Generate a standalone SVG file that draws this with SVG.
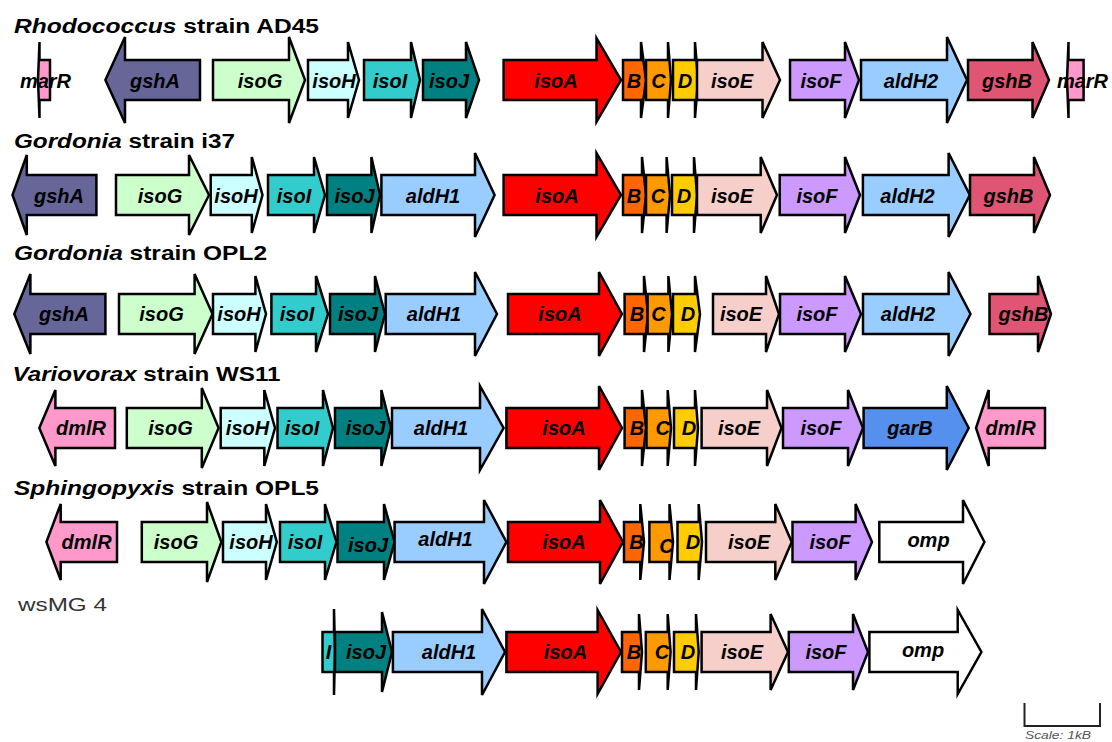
<svg xmlns="http://www.w3.org/2000/svg" width="1112" height="742" viewBox="0 0 1112 742">
<style>
.a{stroke:#000;stroke-width:2.5;stroke-linejoin:miter;stroke-miterlimit:4}
.lbl{font-family:"Liberation Sans",Arial,sans-serif;font-weight:bold;font-style:italic;font-size:20px;text-anchor:middle;fill:#000}
.ttl{font-family:"Liberation Sans",Arial,sans-serif;font-weight:bold;font-size:20px;fill:#000}
.gshA{fill:#666699}.isoG{fill:#CCFFCC}.isoH{fill:#CCFFFF}.isoI{fill:#33CCCC}.isoJ{fill:#008080}
.aldH1{fill:#99CCFF}.aldH2{fill:#99CCFF}.isoA{fill:#FF0000}.isoB{fill:#FF6600}.isoC{fill:#FF9900}.isoD{fill:#FFCC00}
.isoE{fill:#F6CFCB}.isoF{fill:#CC99FF}.gshB{fill:#DF5573}.marR{fill:#FF99CC}.dmlR{fill:#FF99CC}.garB{fill:#5590EE}.omp{fill:#FFFFFF}
</style>
<rect width="1112" height="742" fill="#fff"/>

<!-- Titles -->
<g id="titles">
<text class="ttl" x="14" y="33" textLength="305" lengthAdjust="spacingAndGlyphs"><tspan font-style="italic">Rhodococcus</tspan> strain AD45</text>
<text class="ttl" x="14" y="148" textLength="221" lengthAdjust="spacingAndGlyphs"><tspan font-style="italic">Gordonia</tspan> strain i37</text>
<text class="ttl" x="14" y="260" textLength="253" lengthAdjust="spacingAndGlyphs"><tspan font-style="italic">Gordonia</tspan> strain OPL2</text>
<text class="ttl" x="12.5" y="381" textLength="268" lengthAdjust="spacingAndGlyphs"><tspan font-style="italic">Variovorax</tspan> strain WS11</text>
<text class="ttl" x="14" y="495" textLength="305" lengthAdjust="spacingAndGlyphs"><tspan font-style="italic">Sphingopyxis</tspan> strain OPL5</text>
<text x="18" y="611" textLength="89" lengthAdjust="spacingAndGlyphs" font-family="Liberation Sans, Arial, sans-serif" font-size="19" fill="#333">wsMG 4</text>
</g>

<!-- Row 1: Rhodococcus AD45 -->
<g id="r1">
<g id="r1-marR1"><polygon class="a marR" points="50,60 39.5,60 39.5,42 38,80 39.5,118 39.5,100 50,100"/><text class="lbl" x="45.5" y="87.5">marR</text></g>
<g id="r1-gshA"><polygon class="a gshA" points="200,60 125,60 125,37 105.4,80 125,123 125,100 200,100"/><text class="lbl" x="155" y="87.5">gshA</text></g>
<g id="r1-isoG"><polygon class="a isoG" points="213,60 289,60 289,37 305,80 289,123 289,100 213,100"/><text class="lbl" x="260" y="87.5">isoG</text></g>
<g id="r1-isoH"><polygon class="a isoH" points="308,60 348,60 348,42 359,80 348,118 348,100 308,100"/><text class="lbl" x="334" y="87.5">isoH</text></g>
<g id="r1-isoI"><polygon class="a isoI" points="364,60 411,60 411,42 420,80 411,118 411,100 364,100"/><text class="lbl" x="390" y="87.5">isoI</text></g>
<g id="r1-isoJ"><polygon class="a isoJ" points="423,60 466,60 466,42 479,80 466,118 466,100 423,100"/><text class="lbl" x="449" y="87.5">isoJ</text></g>
<g id="r1-isoA"><polygon class="a isoA" points="503.6,60 596.5,60 596.5,38 621,80 596.5,122 596.5,100 503.6,100"/><text class="lbl" x="556" y="87.5">isoA</text></g>
<g id="r1-B"><polygon class="a isoB" points="623,60 641,60 641,42 646,80 641,118 641,100 623,100"/><text class="lbl" x="634" y="87.5">B</text></g>
<g id="r1-C"><polygon class="a isoC" points="646,60 668,60 668,42 671,80 668,118 668,100 646,100"/><text class="lbl" x="658.5" y="87.5">C</text></g>
<g id="r1-D"><polygon class="a isoD" points="673,60 695,60 695,42 698,80 695,118 695,100 673,100"/><text class="lbl" x="685" y="87.5">D</text></g>
<g id="r1-isoE"><polygon class="a isoE" points="697,60 762.5,60 762.5,42 780,80 762.5,118 762.5,100 697,100"/><text class="lbl" x="732" y="87.5">isoE</text></g>
<g id="r1-isoF"><polygon class="a isoF" points="790,60 845,60 845,42 859,80 845,118 845,100 790,100"/><text class="lbl" x="821" y="87.5">isoF</text></g>
<g id="r1-aldH2"><polygon class="a aldH2" points="861,60 947,60 947,37 967,80 947,123 947,100 861,100"/><text class="lbl" x="911" y="87.5">aldH2</text></g>
<g id="r1-gshB"><polygon class="a gshB" points="968,60 1032.5,60 1032.5,42 1049,80 1032.5,118 1032.5,100 968,100"/><text class="lbl" x="1007" y="87.5">gshB</text></g>
<g id="r1-marR2"><polygon class="a marR" points="1083.6,60 1068.5,60 1068.5,42 1067,80 1068.5,118 1068.5,100 1083.6,100"/><text class="lbl" x="1082.5" y="87.5">marR</text></g>
</g>

<!-- Row 2: Gordonia i37 -->
<g id="r2">
<g id="r2-gshA"><polygon class="a gshA" points="96.4,175 26.8,175 26.8,155 12.5,195 26.8,235 26.8,215 96.4,215"/><text class="lbl" x="59" y="202.5">gshA</text></g>
<g id="r2-isoG"><polygon class="a isoG" points="116,175 189,175 189,155 209,195 189,235 189,215 116,215"/><text class="lbl" x="160" y="202.5">isoG</text></g>
<g id="r2-isoH"><polygon class="a isoH" points="210.7,175 251.8,175 251.8,157 262.5,195 251.8,233 251.8,215 210.7,215"/><text class="lbl" x="236" y="202.5">isoH</text></g>
<g id="r2-isoI"><polygon class="a isoI" points="268,175 314,175 314,157 325,195 314,233 314,215 268,215"/><text class="lbl" x="294" y="202.5">isoI</text></g>
<g id="r2-isoJ"><polygon class="a isoJ" points="327,175 371.4,175 371.4,157 380,195 371.4,233 371.4,215 327,215"/><text class="lbl" x="354.5" y="202.5">isoJ</text></g>
<g id="r2-aldH1"><polygon class="a aldH1" points="381.4,175 475,175 475,153 494.6,195 475,237 475,215 381.4,215"/><text class="lbl" x="433" y="202.5">aldH1</text></g>
<g id="r2-isoA"><polygon class="a isoA" points="503.6,175 596.5,175 596.5,153 621,195 596.5,237 596.5,215 503.6,215"/><text class="lbl" x="557" y="202.5">isoA</text></g>
<g id="r2-B"><polygon class="a isoB" points="623,175 642,175 642,157 646,195 642,233 642,215 623,215"/><text class="lbl" x="634" y="202.5">B</text></g>
<g id="r2-C"><polygon class="a isoC" points="646,175 666.6,175 666.6,157 670,195 666.6,233 666.6,215 646,215"/><text class="lbl" x="658" y="202.5">C</text></g>
<g id="r2-D"><polygon class="a isoD" points="672,175 694,175 694,157 697,195 694,233 694,215 672,215"/><text class="lbl" x="684" y="202.5">D</text></g>
<g id="r2-isoE"><polygon class="a isoE" points="697,175 760.7,175 760.7,157 777,195 760.7,233 760.7,215 697,215"/><text class="lbl" x="732" y="202.5">isoE</text></g>
<g id="r2-isoF"><polygon class="a isoF" points="779.7,175 845,175 845,157 860,195 845,233 845,215 779.7,215"/><text class="lbl" x="817" y="202.5">isoF</text></g>
<g id="r2-aldH2"><polygon class="a aldH2" points="862.9,175 948.6,175 948.6,153 969.8,195 948.6,237 948.6,215 862.9,215"/><text class="lbl" x="907.5" y="202.5">aldH2</text></g>
<g id="r2-gshB"><polygon class="a gshB" points="970,175 1034,175 1034,157 1050,195 1034,233 1034,215 970,215"/><text class="lbl" x="1008.5" y="202.5">gshB</text></g>
</g>

<!-- Row 3: Gordonia OPL2 -->
<g id="r3">
<g id="r3-gshA"><polygon class="a gshA" points="105.4,294 30.4,294 30.4,274 14.3,314 30.4,354 30.4,334 105.4,334"/><text class="lbl" x="64" y="321">gshA</text></g>
<g id="r3-isoG"><polygon class="a isoG" points="119,294 194.6,294 194.6,274 212.5,314 194.6,354 194.6,334 119,334"/><text class="lbl" x="161.5" y="321">isoG</text></g>
<g id="r3-isoH"><polygon class="a isoH" points="213,294 255.4,294 255.4,276 266,314 255.4,352 255.4,334 213,334"/><text class="lbl" x="239" y="321">isoH</text></g>
<g id="r3-isoI"><polygon class="a isoI" points="271.4,294 316,294 316,276 328,314 316,352 316,334 271.4,334"/><text class="lbl" x="297" y="321">isoI</text></g>
<g id="r3-isoJ"><polygon class="a isoJ" points="330,294 375,294 375,276 385,314 375,352 375,334 330,334"/><text class="lbl" x="358" y="321">isoJ</text></g>
<g id="r3-aldH1"><polygon class="a aldH1" points="385.7,294 475,294 475,272 497,314 475,356 475,334 385.7,334"/><text class="lbl" x="434" y="321">aldH1</text></g>
<g id="r3-isoA"><polygon class="a isoA" points="508,294 599,294 599,272 622,314 599,356 599,334 508,334"/><text class="lbl" x="560" y="321">isoA</text></g>
<g id="r3-B"><polygon class="a isoB" points="624.6,294 644,294 644,276 648,314 644,352 644,334 624.6,334"/><text class="lbl" x="637" y="321">B</text></g>
<g id="r3-C"><polygon class="a isoC" points="647.6,294 668.4,294 668.4,276 672,314 668.4,352 668.4,334 647.6,334"/><text class="lbl" x="658.6" y="321">C</text></g>
<g id="r3-D"><polygon class="a isoD" points="673,294 695,294 695,276 700,314 695,352 695,334 673,334"/><text class="lbl" x="688" y="321">D</text></g>
<g id="r3-isoE"><polygon class="a isoE" points="713,294 766,294 766,276 779,314 766,352 766,334 713,334"/><text class="lbl" x="741" y="321">isoE</text></g>
<g id="r3-isoF"><polygon class="a isoF" points="780,294 845,294 845,276 861,314 845,352 845,334 780,334"/><text class="lbl" x="817" y="321">isoF</text></g>
<g id="r3-aldH2"><polygon class="a aldH2" points="863,294 948.6,294 948.6,272 970.5,314 948.6,356 948.6,334 863,334"/><text class="lbl" x="908" y="321">aldH2</text></g>
<g id="r3-gshB"><polygon class="a gshB" points="989.5,294 1038,294 1038,276 1051,314 1038,352 1038,334 989.5,334"/><text class="lbl" x="1023.5" y="321">gshB</text></g>
</g>

<!-- Row 4: Variovorax WS11 -->
<g id="r4">
<g id="r4-dmlR1"><polygon class="a dmlR" points="115,408 55.4,408 55.4,390 39.3,428 55.4,466 55.4,448 115,448"/><text class="lbl" x="81" y="435">dmlR</text></g>
<g id="r4-isoG"><polygon class="a isoG" points="126.8,408 201.8,408 201.8,388 218.6,428 201.8,468 201.8,448 126.8,448"/><text class="lbl" x="170.5" y="435">isoG</text></g>
<g id="r4-isoH"><polygon class="a isoH" points="220.7,408 264.3,408 264.3,390 275,428 264.3,466 264.3,448 220.7,448"/><text class="lbl" x="247.5" y="435">isoH</text></g>
<g id="r4-isoI"><polygon class="a isoI" points="277.5,408 323,408 323,390 333,428 323,466 323,448 277.5,448"/><text class="lbl" x="302" y="435">isoI</text></g>
<g id="r4-isoJ"><polygon class="a isoJ" points="335,408 381.4,408 381.4,390 391,428 381.4,466 381.4,448 335,448"/><text class="lbl" x="365.7" y="435">isoJ</text></g>
<g id="r4-aldH1"><polygon class="a aldH1" points="392,408 480,408 480,386 503.6,428 480,470 480,448 392,448"/><text class="lbl" x="441" y="435">aldH1</text></g>
<g id="r4-isoA"><polygon class="a isoA" points="506.4,408 599,408 599,386 622,428 599,470 599,448 506.4,448"/><text class="lbl" x="564" y="435">isoA</text></g>
<g id="r4-B"><polygon class="a isoB" points="624.6,408 642,408 642,390 646,428 642,466 642,448 624.6,448"/><text class="lbl" x="637" y="435">B</text></g>
<g id="r4-C"><polygon class="a isoC" points="646.5,408 667.7,408 667.7,390 671,428 667.7,466 667.7,448 646.5,448"/><text class="lbl" x="662.8" y="435">C</text></g>
<g id="r4-D"><polygon class="a isoD" points="674,408 695,408 695,390 698,428 695,466 695,448 674,448"/><text class="lbl" x="689" y="435">D</text></g>
<g id="r4-isoE"><polygon class="a isoE" points="701.6,408 767,408 767,390 781.5,428 767,466 767,448 701.6,448"/><text class="lbl" x="739" y="435">isoE</text></g>
<g id="r4-isoF"><polygon class="a isoF" points="783,408 848,408 848,390 863,428 848,466 848,448 783,448"/><text class="lbl" x="821" y="435">isoF</text></g>
<g id="r4-garB"><polygon class="a garB" points="863.6,408 946.8,408 946.8,386 968.7,428 946.8,470 946.8,448 863.6,448"/><text class="lbl" x="910" y="435">garB</text></g>
<g id="r4-dmlR2"><polygon class="a dmlR" points="1045,408 988.7,408 988.7,390 976,428 988.7,466 988.7,448 1045,448"/><text class="lbl" x="1010.6" y="435">dmlR</text></g>
</g>

<!-- Row 5: Sphingopyxis OPL5 -->
<g id="r5">
<g id="r5-dmlR"><polygon class="a dmlR" points="117,522 60.7,522 60.7,504 46.4,542 60.7,580 60.7,562 117,562"/><text class="lbl" x="86.6" y="549">dmlR</text></g>
<g id="r5-isoG"><polygon class="a isoG" points="141.8,522 207,522 207,502 221.4,542 207,582 207,562 141.8,562"/><text class="lbl" x="176" y="549">isoG</text></g>
<g id="r5-isoH"><polygon class="a isoH" points="223,522 266,522 266,504 276.8,542 266,580 266,562 223,562"/><text class="lbl" x="251" y="549">isoH</text></g>
<g id="r5-isoI"><polygon class="a isoI" points="280,522 325,522 325,504 336.4,542 325,580 325,562 280,562"/><text class="lbl" x="305" y="549">isoI</text></g>
<g id="r5-isoJ"><polygon class="a isoJ" points="337.5,522 384,522 384,504 394.6,542 384,580 384,562 337.5,562"/><text class="lbl" x="368" y="552">isoJ</text></g>
<g id="r5-aldH1"><polygon class="a aldH1" points="394.6,522 484,522 484,500 506.4,542 484,584 484,562 394.6,562"/><text class="lbl" x="445.5" y="546">aldH1</text></g>
<g id="r5-isoA"><polygon class="a isoA" points="508,522 600,522 600,500 623,542 600,584 600,562 508,562"/><text class="lbl" x="564" y="549">isoA</text></g>
<g id="r5-B"><polygon class="a isoB" points="624,522 640.3,522 640.3,504 644,542 640.3,580 640.3,562 624,562"/><text class="lbl" x="636.5" y="549">B</text></g>
<g id="r5-C"><polygon class="a isoC" points="649.4,522 669.5,522 669.5,504 673,542 669.5,580 669.5,562 649.4,562"/><text class="lbl" x="666.6" y="553">C</text></g>
<g id="r5-D"><polygon class="a isoD" points="677.5,522 698.7,522 698.7,504 702,542 698.7,580 698.7,562 677.5,562"/><text class="lbl" x="693" y="549">D</text></g>
<g id="r5-isoE"><polygon class="a isoE" points="706,522 775.3,522 775.3,504 791.7,542 775.3,580 775.3,562 706,562"/><text class="lbl" x="749" y="549">isoE</text></g>
<g id="r5-isoF"><polygon class="a isoF" points="792.5,522 855.6,522 855.6,504 872,542 855.6,580 855.6,562 792.5,562"/><text class="lbl" x="830" y="549">isoF</text></g>
<g id="r5-omp"><polygon class="a omp" points="879.3,522 963,522 963,500 984.4,542 963,584 963,562 879.3,562"/><text class="lbl" x="928.5" y="547">omp</text></g>
</g>

<!-- Row 6: wsMG 4 -->
<g id="r6">
<g id="r6-I"><polygon class="a isoI" points="322.5,632 334,632 334,609 335,652 334,695 334,672 322.5,672"/><text class="lbl" x="328.6" y="659">I</text></g>
<g id="r6-isoJ"><polygon class="a isoJ" points="335,632 382,632 382,612 392,652 382,692 382,672 335,672"/><text class="lbl" x="366" y="659">isoJ</text></g>
<g id="r6-aldH1"><polygon class="a aldH1" points="392.9,632 482,632 482,609 505,652 482,695 482,672 392.9,672"/><text class="lbl" x="449" y="659">aldH1</text></g>
<g id="r6-isoA"><polygon class="a isoA" points="506.4,632 597.6,632 597.6,610 621,652 597.6,694 597.6,672 506.4,672"/><text class="lbl" x="565.5" y="659">isoA</text></g>
<g id="r6-B"><polygon class="a isoB" points="622,632 639,632 639,614 642,652 639,690 639,672 622,672"/><text class="lbl" x="634" y="659">B</text></g>
<g id="r6-C"><polygon class="a isoC" points="645.8,632 667.7,632 667.7,614 670.6,652 667.7,690 667.7,672 645.8,672"/><text class="lbl" x="662" y="659">C</text></g>
<g id="r6-D"><polygon class="a isoD" points="674,632 696,632 696,614 698.7,652 696,690 696,672 674,672"/><text class="lbl" x="688" y="659">D</text></g>
<g id="r6-isoE"><polygon class="a isoE" points="701.6,632 770.6,632 770.6,614 788,652 770.6,690 770.6,672 701.6,672"/><text class="lbl" x="742" y="659">isoE</text></g>
<g id="r6-isoF"><polygon class="a isoF" points="788.8,632 853,632 853,614 868,652 853,690 853,672 788.8,672"/><text class="lbl" x="826" y="659">isoF</text></g>
<g id="r6-omp"><polygon class="a omp" points="869.4,632 957.7,632 957.7,610 981.4,652 957.7,694 957.7,672 869.4,672"/><text class="lbl" x="923" y="657">omp</text></g>
</g>

<!-- Scale bar -->
<g id="scale">
<path d="M1024.5,703 V726 H1100 V703" fill="none" stroke="#222" stroke-width="2"/>
<text x="1025" y="739" font-family="Liberation Sans, Arial, sans-serif" font-style="italic" font-size="11" fill="#555" textLength="66" lengthAdjust="spacingAndGlyphs">Scale: 1kB</text>
</g>
</svg>
